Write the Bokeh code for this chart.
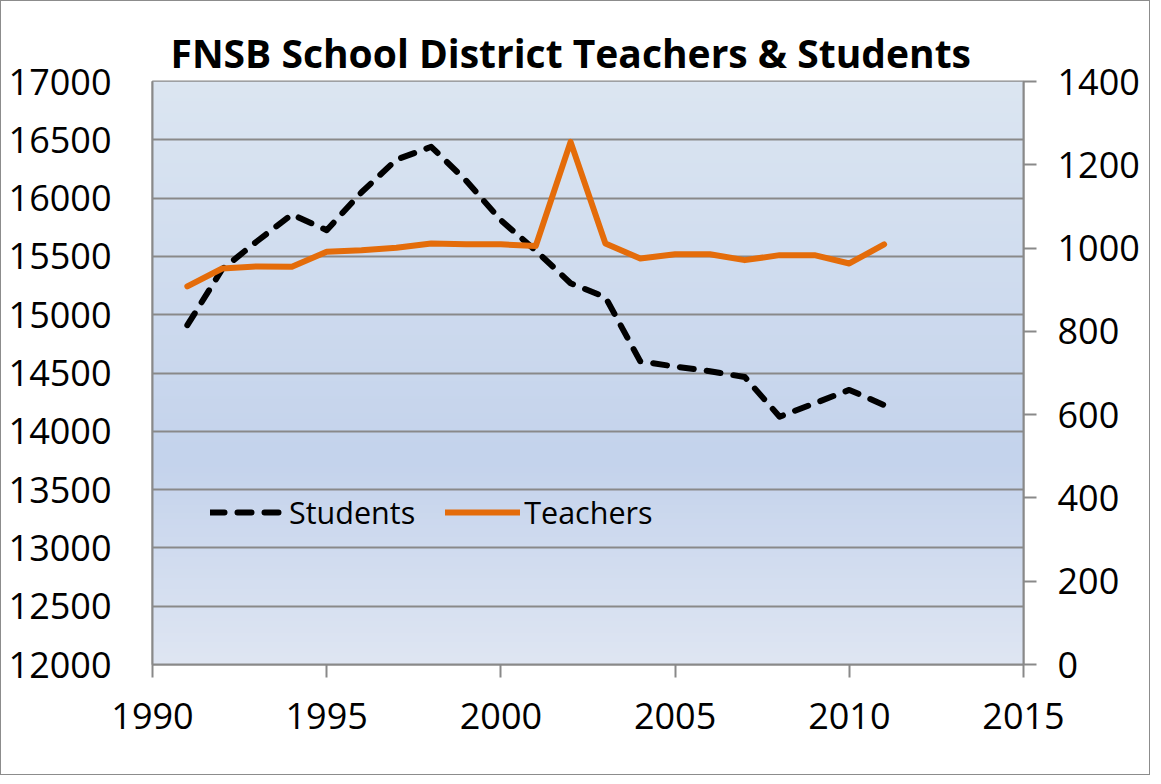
import numpy as np
from bokeh.plotting import figure
from bokeh.models import Range1d, LinearAxis, FixedTicker, Legend, LegendItem
from bokeh.embed import file_html
from bokeh.resources import INLINE

years = [1991, 1992, 1993, 1994, 1995, 1996, 1997, 1998, 1999, 2000, 2001,
         2002, 2003, 2004, 2005, 2006, 2007, 2008, 2009, 2010, 2011]
students = [14910, 15390, 15630, 15860, 15725, 16050, 16330, 16440, 16150, 15810, 15550,
            15270, 15150, 14600, 14555, 14515, 14465, 14125, 14240, 14355, 14225]
teachers = [908, 951, 956, 955, 991, 995, 1001, 1011, 1009, 1009, 1005,
            1255, 1011, 975, 985, 985, 971, 983, 983, 963, 1009]

x_ticks = [1990, 1995, 2000, 2005, 2010, 2015]
left_ticks = list(range(12000, 17001, 500))
right_ticks = list(range(0, 1401, 200))

FONT = "Open Sans"
GRAY = "#898989"

p = figure(width=1150, height=775, output_backend="svg", toolbar_location=None,
           x_range=Range1d(1990, 2015), y_range=Range1d(12000, 17000),
           min_border_left=151, min_border_right=128, min_border_top=80, min_border_bottom=112,
           title="FNSB School District Teachers & Students")
p.styles = {"border": "1px solid #8c8c8c"}
p.extra_y_ranges = {"teachers": Range1d(0, 1400)}

# gradient background of plot area
n = 200
t = np.linspace(0, 1, n)  # 0 = bottom, 1 = top
stops_t = [0.0, 0.35, 1.0]
stops_c = np.array([[223, 230, 243], [196, 211, 236], [220, 230, 242]], dtype=float)
cols = np.stack([np.interp(t, stops_t, stops_c[:, k]) for k in range(3)], axis=1)
img = np.empty((n, 2), dtype=np.uint32)
view = img.view(dtype=np.uint8).reshape((n, 2, 4))
for i in range(n):
    view[i, :, 0] = int(cols[i, 0])
    view[i, :, 1] = int(cols[i, 1])
    view[i, :, 2] = int(cols[i, 2])
    view[i, :, 3] = 255
p.image_rgba(image=[img], x=1990, y=12000, dw=25, dh=5000, level="image")

p.background_fill_color = "white"
p.border_fill_color = "white"
p.outline_line_color = GRAY
p.outline_line_width = 2

p.title.align = "left"
p.title.offset = 18
p.title.text_font = FONT
p.title.text_font_size = "39px"
p.title.text_font_style = "bold"
p.title.text_color = "black"
p.title.standoff = 6

p.xgrid.visible = False
p.ygrid.ticker = FixedTicker(ticks=left_ticks)
p.ygrid.grid_line_color = GRAY
p.ygrid.grid_line_width = 2
p.ygrid.level = "underlay"

xa = p.xaxis[0]
xa.ticker = FixedTicker(ticks=x_ticks)
xa.axis_line_color = GRAY
xa.axis_line_width = 2
xa.major_tick_line_color = GRAY
xa.major_tick_line_width = 2
xa.major_tick_out = 13
xa.major_tick_in = 0
xa.minor_tick_line_color = None
xa.major_label_text_font = FONT
xa.major_label_text_font_size = "36px"
xa.major_label_text_color = "black"
xa.major_label_standoff = 25

ya = p.yaxis[0]
ya.ticker = FixedTicker(ticks=left_ticks)
ya.axis_line_color = GRAY
ya.axis_line_width = 2
ya.major_tick_line_color = None
ya.major_tick_out = 0
ya.major_tick_in = 0
ya.minor_tick_line_color = None
ya.major_label_text_font = FONT
ya.major_label_text_font_size = "36px"
ya.major_label_text_color = "black"
ya.major_label_standoff = 41

ra = LinearAxis(y_range_name="teachers", ticker=FixedTicker(ticks=right_ticks))
ra.axis_line_color = GRAY
ra.axis_line_width = 2
ra.major_tick_line_color = GRAY
ra.major_tick_line_width = 2
ra.major_tick_out = 13
ra.major_tick_in = 0
ra.minor_tick_line_color = None
ra.major_label_text_font = FONT
ra.major_label_text_font_size = "36px"
ra.major_label_text_color = "black"
ra.major_label_standoff = 21
p.add_layout(ra, "right")

r_s = p.line(years, students, line_color="black", line_width=6, line_dash="14 13",
             line_cap="round", line_join="round")
r_t = p.line(years, teachers, y_range_name="teachers", line_color="#e46c0a", line_width=6,
             line_cap="round", line_join="round")

legend = Legend(items=[LegendItem(label="Students", renderers=[r_s]),
                       LegendItem(label="Teachers", renderers=[r_t])],
                orientation="horizontal", location=(58, 131))
legend.background_fill_alpha = 0
legend.border_line_color = None
legend.padding = 0
legend.margin = 0
legend.spacing = 30
legend.glyph_width = 75
legend.glyph_height = 30
legend.label_height = 30
legend.label_standoff = 4
legend.label_text_font = FONT
legend.label_text_font_size = "30.5px"
legend.label_text_color = "black"
p.add_layout(legend, "center")

open("out.html", "w").write(file_html(p, INLINE))
